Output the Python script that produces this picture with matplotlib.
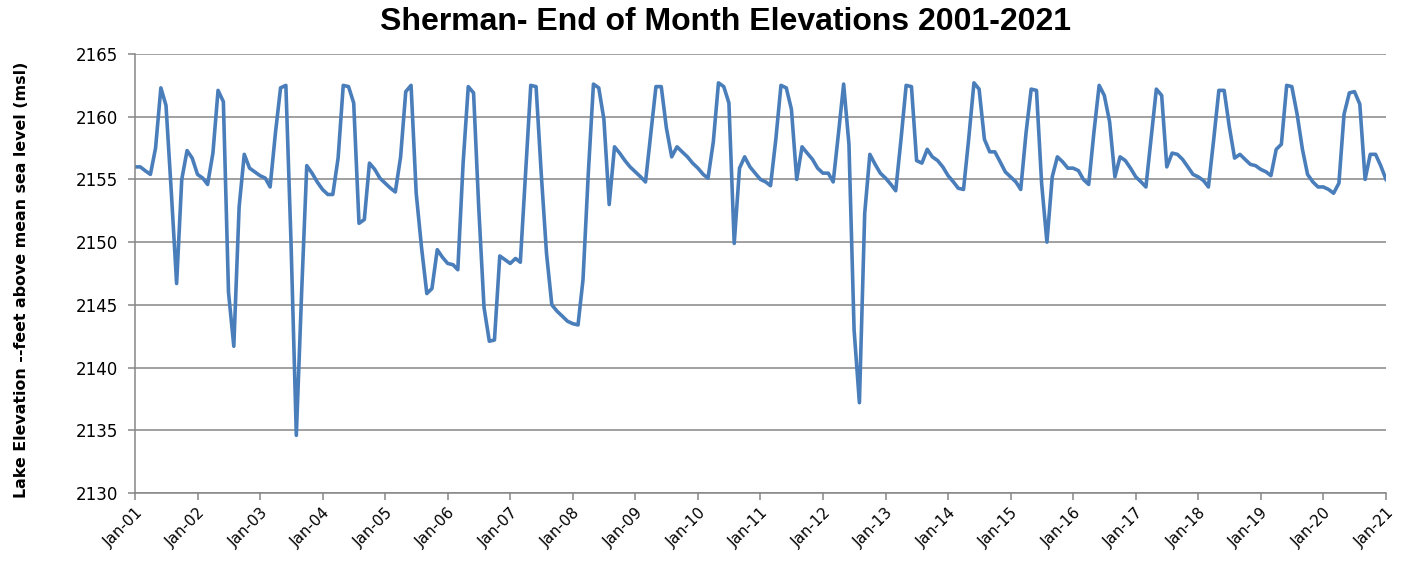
import matplotlib
matplotlib.use("Agg")
import matplotlib.pyplot as plt
import numpy as np
import pandas as pd

# End-of-month elevations (ft msl), Jan 2001 .. Jan 2021
y2001 = [2156.0, 2156.0, 2155.7, 2155.4, 2157.5, 2162.3, 2160.9, 2154.0, 2146.7, 2155.0, 2157.3, 2156.7]
y2002 = [2155.4, 2155.1, 2154.6, 2157.1, 2162.1, 2161.2, 2146.0, 2141.7, 2152.8, 2157.0, 2155.9, 2155.6]
y2003 = [2155.3, 2155.1, 2154.4, 2158.7, 2162.3, 2162.5, 2150.0, 2134.6, 2146.0, 2156.1, 2155.5, 2154.8]
y2004 = [2154.2, 2153.8, 2153.8, 2156.7, 2162.5, 2162.4, 2161.1, 2151.5, 2151.8, 2156.3, 2155.8, 2155.1]
y2005 = [2154.7, 2154.3, 2154.0, 2156.8, 2162.0, 2162.5, 2153.9, 2149.6, 2145.9, 2146.3, 2149.4, 2148.8]
y2006 = [2148.3, 2148.2, 2147.8, 2156.3, 2162.4, 2161.9, 2152.8, 2144.8, 2142.1, 2142.2, 2148.9, 2148.6]
y2007 = [2148.3, 2148.7, 2148.4, 2155.5, 2162.5, 2162.4, 2155.5, 2149.1, 2145.0, 2144.5, 2144.1, 2143.7]
y2008 = [2143.5, 2143.4, 2147.0, 2155.5, 2162.6, 2162.3, 2159.8, 2153.0, 2157.6, 2157.1, 2156.5, 2156.0]
y2009 = [2155.6, 2155.2, 2154.8, 2158.7, 2162.4, 2162.4, 2159.1, 2156.8, 2157.6, 2157.2, 2156.8, 2156.3]
y2010 = [2155.9, 2155.4, 2155.1, 2158.0, 2162.7, 2162.4, 2161.1, 2149.9, 2155.9, 2156.8, 2156.0, 2155.5]
y2011 = [2155.0, 2154.8, 2154.5, 2158.2, 2162.5, 2162.3, 2160.6, 2155.0, 2157.6, 2157.1, 2156.6, 2155.9]
y2012 = [2155.5, 2155.5, 2154.8, 2158.7, 2162.6, 2157.8, 2143.0, 2137.2, 2152.3, 2157.0, 2156.2, 2155.5]
y2013 = [2155.1, 2154.6, 2154.1, 2158.2, 2162.5, 2162.4, 2156.5, 2156.3, 2157.4, 2156.8, 2156.5, 2156.0]
y2014 = [2155.3, 2154.8, 2154.3, 2154.2, 2158.2, 2162.7, 2162.2, 2158.2, 2157.2, 2157.2, 2156.4, 2155.6]
y2015 = [2155.2, 2154.8, 2154.2, 2158.7, 2162.2, 2162.1, 2154.7, 2150.0, 2155.2, 2156.8, 2156.4, 2155.9]
y2016 = [2155.9, 2155.7, 2155.0, 2154.6, 2158.7, 2162.5, 2161.7, 2159.6, 2155.2, 2156.8, 2156.5, 2155.9]
y2017 = [2155.2, 2154.8, 2154.4, 2158.4, 2162.2, 2161.7, 2156.0, 2157.1, 2157.0, 2156.6, 2156.0, 2155.4]
y2018 = [2155.2, 2154.9, 2154.4, 2158.2, 2162.1, 2162.1, 2159.2, 2156.7, 2157.0, 2156.6, 2156.2, 2156.1]
y2019 = [2155.8, 2155.6, 2155.3, 2157.4, 2157.8, 2162.5, 2162.4, 2160.2, 2157.4, 2155.4, 2154.8, 2154.4]
y2020 = [2154.4, 2154.2, 2153.9, 2154.7, 2160.2, 2161.9, 2162.0, 2161.0, 2155.0, 2157.0, 2157.0, 2156.1]
y2021 = [2155.0]

elevations = (y2001 + y2002 + y2003 + y2004 + y2005 + y2006 + y2007 + y2008 + y2009 + y2010
              + y2011 + y2012 + y2013 + y2014 + y2015 + y2016 + y2017 + y2018 + y2019 + y2020 + y2021)
months = pd.date_range("2001-01-01", periods=len(elevations), freq="MS")

tick_dates = pd.date_range("2001-01-01", "2021-01-01", freq="12MS")
tick_labels = [d.strftime("%b-%y") for d in tick_dates]
y_ticks = [2130, 2135, 2140, 2145, 2150, 2155, 2160, 2165]

fig = plt.figure(figsize=(14.01, 5.64), dpi=100)
ax = fig.add_axes([135 / 1401, 1 - 493 / 564, (1386 - 135) / 1401, (493 - 54) / 564])

ax.plot(months, elevations, color="#4a7ebb", lw=2.6, solid_joinstyle="round")

ax.set_xlim(tick_dates[0], tick_dates[-1])
ax.set_ylim(2130, 2165)
ax.set_yticks(y_ticks)
ax.set_yticklabels([str(v) for v in y_ticks], fontsize=12, family="DejaVu Sans")
ax.set_xticks(tick_dates)
ax.set_xticklabels(tick_labels, rotation=45, ha="right", rotation_mode="anchor",
                   fontsize=11, family="DejaVu Sans")
ax.grid(axis="y", color="#868686", lw=1.1)
ax.set_axisbelow(True)
for s in ["top", "right"]:
    ax.spines[s].set_visible(False)
for s in ["left", "bottom"]:
    ax.spines[s].set_color("#868686")
    ax.spines[s].set_linewidth(1.1)
ax.tick_params(axis="both", colors="#868686", length=5, width=1.1, labelcolor="black")
ax.tick_params(axis="x", pad=4)
ax.tick_params(axis="y", pad=7)

fig.text(22 / 1401, 1 - 280 / 564, "Lake Elevation --feet above mean sea level (msl)",
         rotation=90, ha="center", va="center", fontsize=11.4, fontweight="bold",
         family="DejaVu Sans")
fig.text(726 / 1401, 1 - 22 / 564, "Sherman- End of Month Elevations 2001-2021",
         ha="center", va="center", fontsize=23, fontweight="bold", family="Liberation Sans")

fig.savefig("out.png", dpi=100)
